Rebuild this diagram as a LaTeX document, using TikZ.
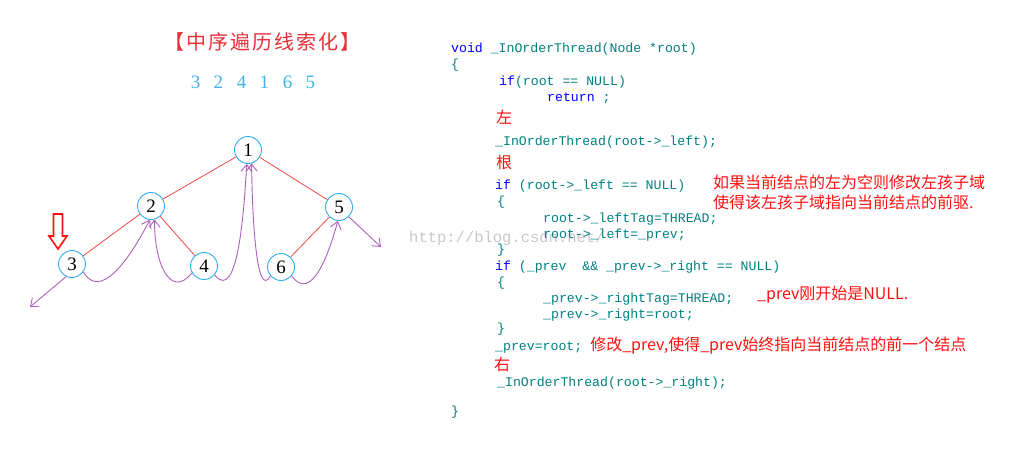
\documentclass[tikz,border=0pt]{standalone}
\usepackage{fontspec}
\setmainfont{Liberation Serif}
\setmonofont{Liberation Mono}
\newfontfamily\cjk{Noto Sans CJK SC}
\newfontfamily\cjkwide[LetterSpace=10]{Noto Sans CJK SC}
\usetikzlibrary{arrows.meta}
\definecolor{codeteal}{HTML}{008080}
\definecolor{kwblue}{HTML}{0000FF}
\definecolor{cmred}{HTML}{FF1010}
\definecolor{titlered}{HTML}{E8303A}
\definecolor{seqblue}{HTML}{40B4E8}
\definecolor{ringblue}{HTML}{30AEEE}
\definecolor{edgered}{HTML}{F04848}
\definecolor{thr}{HTML}{B060C0}
\definecolor{wm}{HTML}{C8C8C8}
\tikzset{
  treenode/.style={circle,draw=ringblue,fill=white,line width=0.9pt,minimum size=27pt,inner sep=0pt,font=\fontsize{19}{19}\selectfont},
  treeedge/.style={edgered,line width=0.8pt},
  thread/.style={thr,line width=0.9pt,-{Straight Barb[length=7pt,width=11pt]}},
  codeline/.style={anchor=west,inner sep=0pt,text=codeteal,font=\fontsize{13.2}{13.2}\ttfamily,text height=9pt,text depth=3pt},
  cmtext/.style={anchor=west,inner sep=0pt,text=cmred,font=\fontsize{16}{16}\cjk,text height=11pt,text depth=3pt},
}
\newcommand{\kw}[1]{\textcolor{kwblue}{#1}}
\newcommand{\rc}[1]{{\cjk\fontsize{16}{16}\selectfont\textcolor{cmred}{#1}}}
\begin{document}
\begin{tikzpicture}[x=1pt,y=-1pt]
\useasboundingbox[fill=white] (0,0) rectangle (1009,455);
% title and sequence
\node[inner sep=0pt,text=titlered,font=\fontsize{20}{20}\cjkwide] (title) at (262,42) {【中序遍历线索化】};
\node[inner sep=0pt,text=seqblue,font=\fontsize{19}{19}\selectfont] (seq) at (253,82) {3\hspace{13.5pt}2\hspace{13.5pt}4\hspace{13.5pt}1\hspace{13.5pt}6\hspace{13.5pt}5};
% tree
\node[treenode] (n1) at (248,150) {1};
\node[treenode] (n2) at (151,206) {2};
\node[treenode] (n3) at (72,264) {3};
\node[treenode] (n4) at (204,266) {4};
\node[treenode] (n6) at (281,267) {6};
\node[treenode] (n5) at (339,207) {5};
\draw[treeedge] (n1) -- (n2);
\draw[treeedge] (n2) -- (n3);
\draw[treeedge] (n2) -- (n4);
\draw[treeedge] (n1) -- (n5);
\draw[treeedge] (n5) -- (n6);
% free ends
\coordinate (null3) at (30,307);
\coordinate (null5) at (381,247);
% threads
\draw[thread] (n3.-115) -- (null3);
\draw[thread] (n3.-35) .. controls (100,300) and (128,262) .. (n2.-95);
\draw[thread] (n4.-150) .. controls (170,300) and (154,262) .. (n2.-75);
\draw[thread] (n4.-40) .. controls (238,304) and (244,210) .. (n1.-95);
\draw[thread] (n6.-140) .. controls (256,302) and (252,210) .. (n1.-75);
\draw[thread] (n6.-40) .. controls (312,304) and (330,250) .. (n5.-95);
\draw[thread] (n5.-45) -- (null5);
% red hollow arrow
\draw[cmred,line width=1.6pt,line join=miter] (53.5,214) -- (62.5,214) -- (62.5,236) -- (67,236) -- (58,249) -- (49,236) -- (53.5,236) -- cycle;
% watermark
\node[anchor=west,inner sep=0pt,text=wm,font=\fontsize{15.5}{15.5}\ttfamily] (wmk) at (409,238) {http://blog.csdn.net/};
% code
\node[codeline] (c1) at (451,49) {\kw{void} \_InOrderThread(Node *root)};
\node[codeline] (c2) at (451,65) {\{};
\node[codeline] (c3) at (499,82) {\kw{if}(root == NULL)};
\node[codeline] (c4) at (547,98) {\kw{return} ;};
\node[cmtext] (c5) at (496,119) {左};
\node[codeline] (c6) at (495,142) {\_InOrderThread(root->\_left);};
\node[cmtext] (c7) at (496,164) {根};
\node[codeline] (c8) at (495,186) {\kw{if} (root->\_left == NULL)};
\node[codeline] (c9) at (497,202) {\{};
\node[codeline] (c10) at (543,219) {root->\_leftTag=THREAD;};
\node[codeline] (c11) at (543,235) {root->\_left=\_prev;};
\node[codeline] (c12) at (497,250) {\}};
\node[codeline] (c13) at (495,267) {\kw{if} (\_prev\ \ \&\& \_prev->\_right == NULL)};
\node[codeline] (c14) at (497,283) {\{};
\node[codeline] (c15) at (543,299) {\_prev->\_rightTag=THREAD;};
\node[codeline] (c16) at (543,315) {\_prev->\_right=root;};
\node[codeline] (c17) at (497,329) {\}};
\node[codeline] (c18) at (495,347) {\_prev=root; \rc{修改\_prev,使得\_prev始终指向当前结点的前一个结点}};
\node[cmtext] (c19) at (494,366) {右};
\node[codeline] (c20) at (497,383) {\_InOrderThread(root->\_right);};
\node[codeline] (c21) at (451,412) {\}};
% comments
\node[cmtext] (m1) at (713,184) {如果当前结点的左为空则修改左孩子域};
\node[cmtext] (m2) at (713,204) {使得该左孩子域指向当前结点的前驱.};
\node[cmtext] (m3) at (757,295) {\_prev刚开始是NULL.};
\end{tikzpicture}
\end{document}
